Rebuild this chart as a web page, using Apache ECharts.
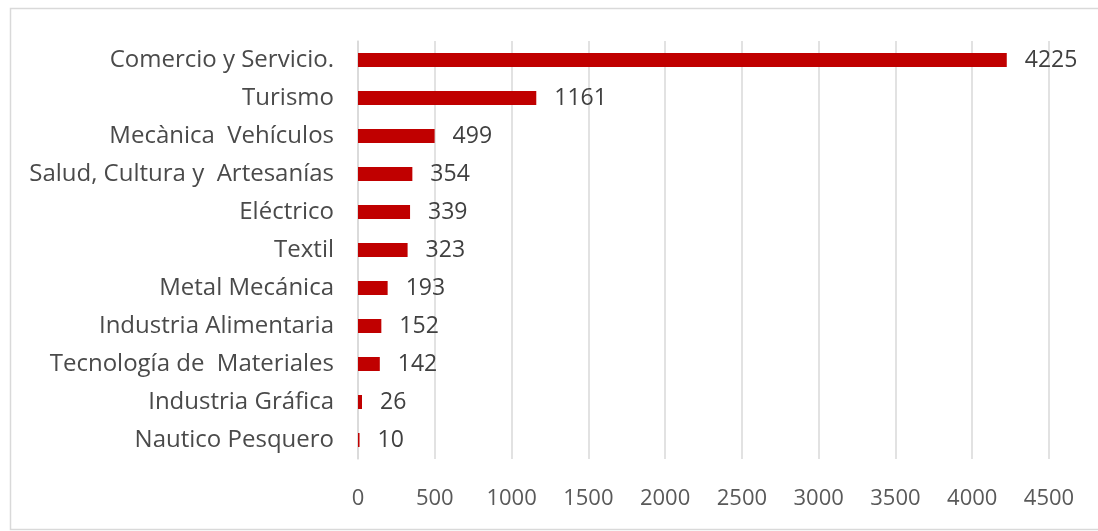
<!DOCTYPE html>
<html>
<head>
<meta charset="utf-8">
<script src="https://cdn.jsdelivr.net/npm/echarts@6/dist/echarts.min.js"></script>
<style>
  html, body { margin: 0; padding: 0; background: #ffffff; }
  #chart { width: 1098px; height: 531px; }
</style>
</head>
<body>
<div id="chart"></div>
<script>
// Enrolment by training area (top to bottom as drawn)
const categories = [
  'Comercio y Servicio.',
  'Turismo',
  'Mecànica  Vehículos',
  'Salud, Cultura y  Artesanías',
  'Eléctrico',
  'Textil',
  'Metal Mecánica',
  'Industria Alimentaria',
  'Tecnología de  Materiales',
  'Industria Gráfica',
  'Nautico Pesquero'
];
const values = [4225, 1161, 499, 354, 339, 323, 193, 152, 142, 26, 10];
const xTicks = [0, 500, 1000, 1500, 2000, 2500, 3000, 3500, 4000, 4500];

const font = '"Open Sans", "Liberation Sans", sans-serif';
const chart = echarts.init(document.getElementById('chart'), null, { renderer: 'canvas' });

chart.setOption({
  backgroundColor: '#ffffff',
  animation: false,
  graphic: [{
    type: 'rect',
    shape: { x: 10.5, y: 8.5, width: 1100, height: 521 },
    style: { fill: 'none', stroke: '#d9d9d9', lineWidth: 1.5 },
    silent: true
  }],
  grid: { left: 358, right: 49, top: 41, bottom: 72, containLabel: false },
  xAxis: {
    type: 'value',
    min: xTicks[0],
    max: xTicks[xTicks.length - 1],
    interval: xTicks[1] - xTicks[0],
    axisLine: { show: false },
    axisTick: { show: false },
    splitLine: { show: true, lineStyle: { color: '#d9d9d9', width: 1.5 } },
    axisLabel: {
      color: '#595959', fontFamily: font, fontSize: 22, margin: 29,
      formatter: v => String(v)
    }
  },
  yAxis: {
    type: 'category',
    data: categories,
    inverse: true,
    axisLine: { show: true, lineStyle: { color: '#d9d9d9', width: 1.5 } },
    axisTick: { show: false },
    axisLabel: { color: '#4a4a4a', fontFamily: font, fontSize: 24, margin: 24 }
  },
  series: [{
    type: 'bar',
    data: values,
    barWidth: 14,
    itemStyle: { color: '#c00000' },
    label: {
      show: true,
      position: 'right',
      distance: 18,
      color: '#404040',
      fontFamily: font,
      fontSize: 23
    }
  }]
});
</script>
</body>
</html>
